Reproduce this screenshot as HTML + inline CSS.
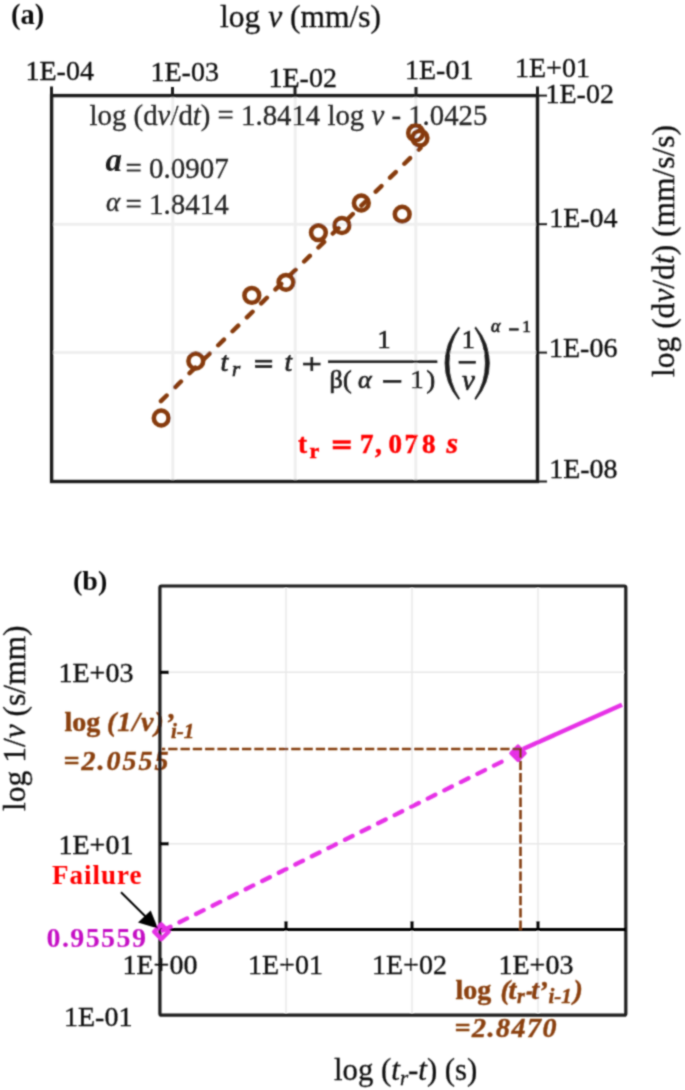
<!DOCTYPE html>
<html><head><meta charset="utf-8">
<style>
html,body{margin:0;padding:0;background:#fff;width:685px;height:1090px;overflow:hidden}
svg{display:block}
text{font-family:"Liberation Serif",serif}
.t{fill:#111;font-size:28px;stroke:#111;stroke-width:0.35px}
.g{stroke:#efefef;stroke-width:3}
.g2{stroke:#e8e8e8;stroke-width:1.5}
</style></head><body>
<svg width="685" height="1090" viewBox="0 0 685 1090">
<defs><filter id="bl" x="0" y="0" width="685" height="1090" filterUnits="userSpaceOnUse"><feConvolveMatrix order="5" kernelMatrix="0.00009 0.00198 0.00548 0.00198 0.00009 0.00198 0.04220 0.11707 0.04220 0.00198 0.00548 0.11707 0.32480 0.11707 0.00548 0.00198 0.04220 0.11707 0.04220 0.00198 0.00009 0.00198 0.00548 0.00198 0.00009" edgeMode="duplicate" preserveAlpha="false"/></filter></defs>
<g filter="url(#bl)">
<!-- ============ CHART (a) ============ -->
<g>
<text x="11" y="23.5" style="font-weight:bold;font-size:28.5px" fill="#111">(a)</text>
<text x="220" y="27" style="font-size:31.5px;stroke:#111;stroke-width:0.3px" fill="#111">log <tspan font-style="italic">v</tspan> (mm/s)</text>
<!-- grid -->
<line class="g" x1="172.8" y1="97" x2="172.8" y2="480"/>
<line class="g" x1="295.2" y1="97" x2="295.2" y2="480"/>
<line class="g" x1="415.8" y1="97" x2="415.8" y2="480"/>
<line class="g" x1="53" y1="224.2" x2="536" y2="224.2"/>
<line class="g" x1="53" y1="352.6" x2="536" y2="352.6"/>
<!-- frame -->
<rect x="51.6" y="95.6" width="485.9" height="385.9" fill="none" stroke="#1f1f1f" stroke-width="3.4"/>
<!-- top ticks -->
<g stroke="#1c1c1c" stroke-width="3">
<line x1="51.5" y1="86.5" x2="51.5" y2="96"/>
<line x1="172.5" y1="87" x2="172.5" y2="96"/>
<line x1="295" y1="87" x2="295" y2="96"/>
<line x1="416" y1="87" x2="416" y2="96"/>
<line x1="537.5" y1="86.5" x2="537.5" y2="96"/>
</g>
<g stroke="#1c1c1c" stroke-width="2">
<line x1="537" y1="95.6" x2="547" y2="95.6"/>
<line x1="537" y1="224.2" x2="547" y2="224.2"/>
<line x1="537" y1="352.6" x2="547" y2="352.6"/>
<line x1="537" y1="481.5" x2="547" y2="481.5"/>
</g>
<!-- tick labels -->
<g class="t">
<text x="25.5" y="80">1E-04</text>
<text x="150.5" y="81.2">1E-03</text>
<text x="268.5" y="86.6">1E-02</text>
<text x="405" y="78.9">1E-01</text>
<text x="515" y="77">1E+01</text>
<text x="545.5" y="103.1">1E-02</text>
<text x="549.2" y="227">1E-04</text>
<text x="549" y="357">1E-06</text>
<text x="549.2" y="477.5">1E-08</text>
</g>
<text transform="translate(674,377) rotate(-90)" style="font-size:31.5px;stroke:#111;stroke-width:0.3px" fill="#111">log (d<tspan font-style="italic">v</tspan>/d<tspan font-style="italic">t</tspan>) (mm/s/s)</text>
<!-- fit equation -->
<text x="89.6" y="124.5" style="font-size:28.8px;stroke:#262626;stroke-width:0.3px" fill="#262626">log (d<tspan font-style="italic">v</tspan>/d<tspan font-style="italic">t</tspan>) = 1.8414 log <tspan font-style="italic">v</tspan> - 1.0425</text>
<text x="105.5" y="170.5" style="font-size:33px;font-weight:bold;font-style:italic" fill="#1f1f1f">a</text>
<text x="125.5" y="177.8" style="font-size:29px;stroke:#262626;stroke-width:0.3px" fill="#262626">= 0.0907</text>
<text x="106" y="210.8" style="font-size:27px;font-style:italic;stroke:#262626;stroke-width:0.3px" fill="#262626">α</text>
<text x="125.5" y="213.8" style="font-size:29px;stroke:#262626;stroke-width:0.3px" fill="#262626">= 1.8414</text>
<!-- trendline -->
<line x1="160" y1="402" x2="420.5" y2="148" stroke="#863a08" stroke-width="4.4" stroke-linecap="round" stroke-dasharray="8 12" stroke-dashoffset="18.7"/>
<!-- markers -->
<g fill="none" stroke="#863a08" stroke-width="4.5">
<circle cx="161.2" cy="418" r="7.4"/>
<circle cx="195.8" cy="361" r="7.4"/>
<circle cx="251.8" cy="295.4" r="7.4"/>
<circle cx="286" cy="282.3" r="7.4"/>
<circle cx="318.4" cy="232.6" r="7.4"/>
<circle cx="341.9" cy="225.5" r="7.4"/>
<circle cx="361.3" cy="203" r="7.4"/>
<circle cx="402.2" cy="214.2" r="7.4"/>
<circle cx="415.6" cy="132.9" r="7.4"/>
<circle cx="420" cy="138.1" r="7.4"/>
</g>
<!-- formula -->
<g fill="#1e1e1e" stroke="#1e1e1e" stroke-width="0.7">
<text x="220.5" y="370.5" style="font-size:28px;font-style:italic">t</text>
<text x="232" y="376" style="font-size:21px;font-style:italic">r</text>
<rect x="255.5" y="360.2" width="16.3" height="1.9"/>
<rect x="255.5" y="365.6" width="16.3" height="1.9"/>
<text x="284.5" y="370.5" style="font-size:28px;font-style:italic">t</text>
<rect x="303.5" y="363.1" width="16.6" height="1.9"/>
<rect x="310.9" y="357.5" width="1.9" height="13.2"/>
<text x="377.5" y="348" style="font-size:26px">1</text>
<rect x="328.5" y="360.8" width="108.5" height="1.9"/>
<text x="329.5" y="388" style="font-size:26px">β</text>
<text x="343" y="388" style="font-size:26px">(</text>
<text x="358" y="388" style="font-size:26px;font-style:italic">α</text>
<rect x="383.5" y="380.4" width="17.5" height="1.9"/>
<text x="410.5" y="388" style="font-size:26px">1</text>
<text x="426.5" y="388" style="font-size:26px">)</text>
<path d="M458.6 327 Q445 343 445 363 Q445 383 458.6 399.5 L459.6 398.6 Q449 383 449 363 Q449 343 459.6 327.9 Z"/>
<path d="M475.8 327 Q489.4 343 489.4 363 Q489.4 383 475.8 399.5 L474.8 398.6 Q485.4 383 485.4 363 Q485.4 343 474.8 327.9 Z"/>
<text x="461.8" y="347.5" style="font-size:26px">1</text>
<rect x="459" y="361.3" width="16.5" height="1.9"/>
<text x="462" y="389.5" style="font-size:29px;font-style:italic">v</text>
<text x="491" y="332.3" style="font-size:18px;font-style:italic">α</text>
<rect x="509.5" y="328.7" width="8.8" height="1.5"/>
<text x="522.2" y="332.3" style="font-size:17px">1</text>
</g>
<g fill="#ff0000" stroke="#ff0000" stroke-width="0.5" style="font-weight:bold">
<text x="298" y="452.5" style="font-size:27px">t</text>
<text x="309.5" y="458.3" style="font-size:22px">r</text>
<rect x="333" y="440.6" width="17.5" height="2.8"/>
<rect x="333" y="446.2" width="17.5" height="2.8"/>
<text y="452.5" style="font-size:27px"><tspan x="360">7</tspan><tspan x="375">,</tspan><tspan x="388.5">0</tspan><tspan x="404.5">7</tspan><tspan x="422">8</tspan></text>
<text x="446.5" y="452.8" style="font-size:29.5px;font-style:italic">s</text>
</g>
</g>

<!-- ============ CHART (b) ============ -->
<g>
<text x="73" y="589.5" style="font-weight:bold;font-size:28px" fill="#111">(b)</text>
<text transform="translate(25,811) rotate(-90)" style="font-size:31.5px;stroke:#111;stroke-width:0.3px" fill="#111">log 1/<tspan font-style="italic">v</tspan> (s/mm)</text>
<!-- grid -->
<line class="g2" x1="286" y1="588" x2="286" y2="1013"/>
<line class="g2" x1="412" y1="588" x2="412" y2="1013"/>
<line class="g2" x1="538" y1="588" x2="538" y2="1013"/>
<line class="g2" x1="162" y1="672.3" x2="624" y2="672.3"/>
<line class="g2" x1="162" y1="843.8" x2="624" y2="843.8"/>
<g fill="#8a4010" stroke="#8a4010" stroke-width="0.45" style="font-size:28px;font-weight:bold">
<text x="64.5" y="731.2">log</text>
<text x="107" y="731.2" style="font-style:italic;letter-spacing:1px">(1/v)</text>
<text x="165" y="731.5" style="font-style:italic">’</text>
<text x="171" y="738.2" style="font-style:italic;font-size:21px">i-1</text>
<text x="63.5" y="770.3" style="font-style:italic;letter-spacing:2px">=2.0555</text>
<text x="455.5" y="998.8">log</text>
<text x="500.6" y="999.3" style="font-style:italic">(</text>
<text x="508.5" y="999.3" style="font-style:italic">t</text>
<text x="517" y="1003.3" style="font-style:italic;font-size:20px">r</text>
<path d="M527 991.6 L532 991.6 L531.4 994.6 L526.4 994.6 Z"/>
<text x="531.2" y="999.3" style="font-style:italic">t</text>
<text x="538.5" y="999.6" style="font-style:italic">’</text>
<text x="548.5" y="1003.3" style="font-style:italic;font-size:21px">i-1</text>
<text x="573.5" y="999.3" style="font-style:italic">)</text>
<text x="454.5" y="1037" style="font-style:italic;letter-spacing:1.5px">=2.8470</text>
</g>
<!-- frame -->
<rect x="159.9" y="586" width="465.9" height="429.2" fill="none" stroke="#1c1c1c" stroke-width="3.2" rx="1.5"/>
<line x1="160" y1="929.5" x2="625.8" y2="929.5" stroke="#000" stroke-width="3.2"/>
<g stroke="#000" stroke-width="3">
<line x1="160" y1="672.3" x2="169" y2="672.3"/>
<line x1="160" y1="843.8" x2="169" y2="843.8"/>
<line x1="286" y1="929.5" x2="286" y2="921"/>
<line x1="412" y1="929.5" x2="412" y2="921"/>
<line x1="538" y1="929.5" x2="538" y2="921"/>
</g>
<!-- labels -->
<g class="t">
<text x="58.5" y="681.5">1E+03</text>
<text x="58.5" y="853.5">1E+01</text>
<text x="122.5" y="974">1E+00</text>
<text x="248" y="974">1E+01</text>
<text x="372" y="974">1E+02</text>
<text x="498.5" y="974">1E+03</text>
<text x="64" y="1026">1E-01</text>
</g>
<text x="334" y="1080" style="font-size:30.8px;stroke:#111;stroke-width:0.3px" fill="#111">log (<tspan font-style="italic">t<tspan style="font-size:21px" dy="5">r</tspan></tspan><tspan dy="-5">-</tspan><tspan font-style="italic">t</tspan>) (s)</text>
<!-- brown annotations -->
<!-- magenta -->
<line x1="161.2" y1="931.3" x2="510" y2="757.6" stroke="#e630e6" stroke-width="4.3" stroke-linecap="round" stroke-dasharray="8.5 9.99" stroke-dashoffset="16.58"/>
<line x1="523" y1="749" x2="622" y2="704.7" stroke="#e630e6" stroke-width="4.5"/>
<path d="M161.4 924.6 L168.6 931.8 L161.4 939 L154.2 931.8 Z" fill="none" stroke="#e630e6" stroke-width="4.4" stroke-linejoin="round"/>
<path d="M518 746.2 L525 753.2 L518 760.2 L511 753.2 Z" fill="#e630e6" stroke="#e630e6" stroke-width="3.6" stroke-linejoin="round"/>
<g stroke="#843c0c" stroke-width="2.6" fill="none">
<line x1="162" y1="749" x2="521.8" y2="749" stroke-dasharray="9.3 3" stroke-dashoffset="6.1"/>
<line x1="520.5" y1="747.7" x2="520.5" y2="933" stroke-dasharray="9.3 3" stroke-dashoffset="11.6"/>
</g>
<!-- Failure -->
<text x="52" y="883.5" style="font-size:27px;font-weight:bold;letter-spacing:1px" fill="#ff0000">Failure</text>
<text x="46.5" y="946.8" style="font-size:28px;font-weight:bold;letter-spacing:1.4px" fill="#c40ac4">0.95559</text>
<line x1="121" y1="892.3" x2="146" y2="917" stroke="#000" stroke-width="2"/>
<path d="M138 922.5 L150.7 910.6 L158 928.6 Z" fill="#000"/>
</g>
</g>
</svg>
</body></html>
